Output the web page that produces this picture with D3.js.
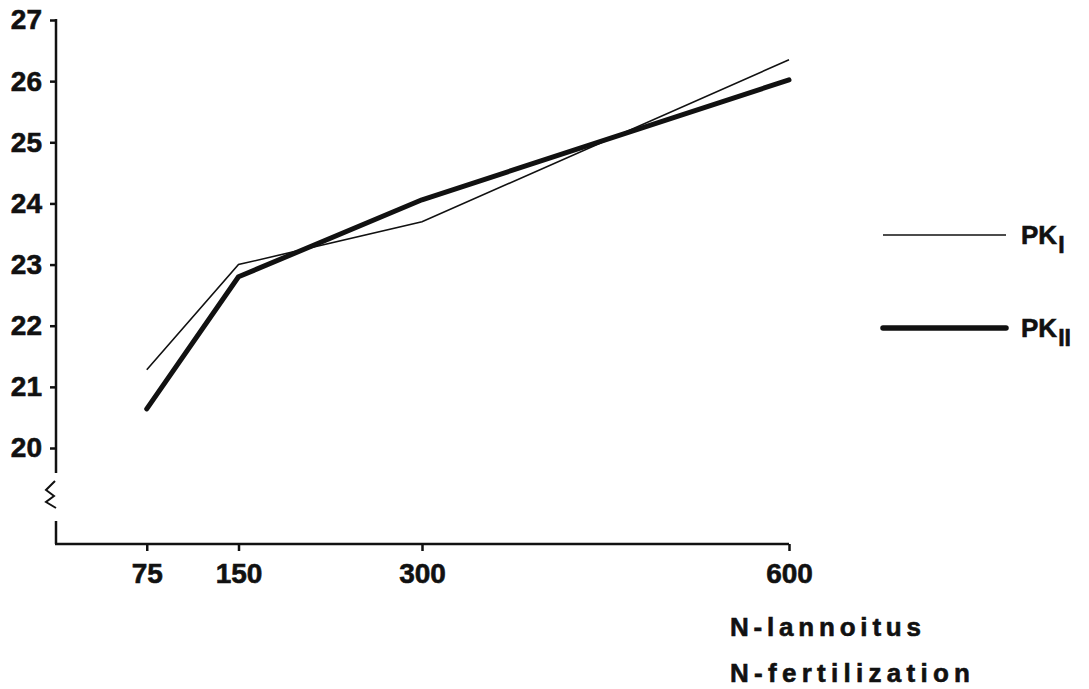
<!DOCTYPE html>
<html><head><meta charset="utf-8">
<script src="https://cdn.jsdelivr.net/npm/d3@7"></script>
<style>
html,body{margin:0;padding:0;background:#fff;}
text{font-family:"Liberation Sans",Arial,sans-serif;font-weight:bold;fill:#111;stroke:#111;stroke-width:0.6px;}
</style></head>
<body><svg id="c" width="1089" height="689"></svg>
<script>
const xValues = [75, 150, 300, 600];
const pk1 = [21.28, 23.0, 23.7, 26.35];
const pk2 = [20.64, 22.8, 24.06, 26.02];
const yTicks = [20, 21, 22, 23, 24, 25, 26, 27];
const xTicks = [75, 150, 300, 600];
const seriesNames = ["PK", "PK"];
const seriesSubs = ["I", "II"];
const xLabels = ["N-lannoitus", "N-fertilization"];

const svg = d3.select("#c");
const x = d3.scaleLinear().domain([0, 600]).range([55, 789]);
const y = d3.scaleLinear().domain([20, 27]).range([448, 20]);
const axisY0 = 544; // x-axis baseline

const ink = "#111";

// y axis ticks and labels
const yAx = svg.append("g").attr("transform", "translate(56,0)")
  .call(d3.axisLeft(y).tickValues(yTicks).tickSize(6).tickPadding(8).tickFormat(d3.format("d")));
yAx.select(".domain").remove();
yAx.selectAll(".tick line").attr("stroke", ink).attr("stroke-width", 2.5);
yAx.selectAll(".tick text").style("font-size", "28px").attr("fill", ink).attr("font-family", null);

// y axis line with break
svg.append("line").attr("x1", 56).attr("x2", 56).attr("y1", y(27) - 1).attr("y2", y(20) + 25)
  .attr("stroke", ink).attr("stroke-width", 2.5);
svg.append("path").attr("d", "M55,481 L46,490 L54,496 L46,502 L56,508")
  .attr("fill", "none").attr("stroke", ink).attr("stroke-width", 2);
svg.append("line").attr("x1", 56).attr("x2", 56).attr("y1", 521).attr("y2", axisY0)
  .attr("stroke", ink).attr("stroke-width", 2.5);

// x axis
const xAx = svg.append("g").attr("transform", `translate(0,${axisY0})`)
  .call(d3.axisBottom(x).tickValues(xTicks).tickSize(7).tickPadding(12).tickFormat(d3.format("d")));
xAx.select(".domain").attr("d", `M${x(0)},0H${x(600)}`).attr("stroke", ink).attr("stroke-width", 2.5);
xAx.selectAll(".tick line").attr("stroke", ink).attr("stroke-width", 2.5);
xAx.selectAll(".tick text").style("font-size", "28px").attr("fill", ink).attr("font-family", null);

// x axis title
svg.append("text").attr("x", 730).attr("y", 636).style("font-size", "26px")
  .attr("textLength", 191).attr("lengthAdjust", "spacing").text(xLabels[0]);
svg.append("text").attr("x", 730).attr("y", 682).style("font-size", "26px")
  .attr("textLength", 240).attr("lengthAdjust", "spacing").text(xLabels[1]);

// lines
const line = d3.line().x((d, i) => x(xValues[i])).y(d => y(d));
svg.append("path").datum(pk1).attr("d", line).attr("fill", "none")
  .attr("stroke", ink).attr("stroke-width", 1.6).attr("stroke-linejoin", "miter");
svg.append("path").datum(pk2).attr("d", line).attr("fill", "none")
  .attr("stroke", ink).attr("stroke-width", 5).attr("stroke-linecap", "round").attr("stroke-linejoin", "round");

// legend
const legY = [235, 328];
const legW = [1.6, 5.5];
legY.forEach((ly, i) => {
  svg.append("line").attr("x1", 883).attr("x2", 1006).attr("y1", ly).attr("y2", ly)
    .attr("stroke", ink).attr("stroke-width", legW[i]).attr("stroke-linecap", i ? "round" : "butt");
  const t = svg.append("text").attr("x", 1021).attr("y", ly + 9).style("font-size", "26px");
  t.append("tspan").text(seriesNames[i]);
  t.append("tspan").attr("dy", 9).attr("dx", 1).style("font-size", "23px").text(seriesSubs[i]);
});
</script></body></html>
